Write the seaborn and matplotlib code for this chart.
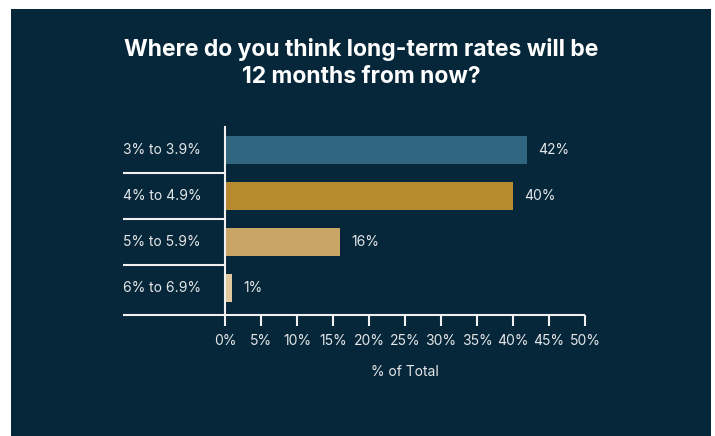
import matplotlib
matplotlib.use("Agg")
import matplotlib.pyplot as plt
from matplotlib.patches import Rectangle
from matplotlib.lines import Line2D
import seaborn as sns
import pandas as pd

# Survey answers: expected long-term rate range in 12 months
categories = ["3% to 3.9%", "4% to 4.9%", "5% to 5.9%", "6% to 6.9%"]
values = [42, 40, 16, 1]
x_ticks = [0, 5, 10, 15, 20, 25, 30, 35, 40, 45, 50]
x_tick_labels = ["0%", "5%", "10%", "15%", "20%", "25%", "30%", "35%", "40%", "45%", "50%"]
title = "Where do you think long-term rates will be\n12 months from now?"
x_label = "% of Total"

bar_colors = ["#316680", "#b78a30", "#c9a665", "#e2c99d"]
BG = "#062739"
TXT = "#e4e6e8"
LINE = "#f0f0f0"

sns.set_theme(style="white")
plt.rcParams["font.family"] = ["Inter", "DejaVu Sans"]

W, H = 715, 436
fig = plt.figure(figsize=(W / 100, H / 100), dpi=100, facecolor="white")
fig.add_artist(Rectangle((11 / W, 0), 700 / W, (H - 9) / H, transform=fig.transFigure,
                         facecolor=BG, edgecolor="none", zorder=0))

# plot area: 0% at x=225 px, 50% at x=585 px
ax = fig.add_axes([225 / W, (H - 315) / H, 360 / W, 188 / H])
ax.set_facecolor("none")

df = pd.DataFrame({"range": categories, "share": values})
sns.barplot(data=df, y="range", x="share", hue="range", palette=bar_colors,
            legend=False, orient="h", width=0.63, saturation=1, linewidth=0,
            ax=ax)

ax.set_xlim(0, 50)
ax.set_ylim(3.587, -0.5)

for s in ["top", "right", "bottom"]:
    ax.spines[s].set_visible(False)
ax.spines["left"].set_color(LINE)
ax.spines["left"].set_linewidth(1.5)

left_edge = -(225 - 123) / 360
ytrans = ax.get_yaxis_transform()
# baseline extending under the category labels
ax.add_line(Line2D([left_edge, 1], [0, 0], transform=ax.transAxes, color=LINE,
                   lw=1.5, clip_on=False, solid_capstyle="butt"))
# separators between categories
for yy in [0.5, 1.5, 2.5]:
    ax.add_line(Line2D([left_edge, 0], [yy, yy], transform=ytrans, color=LINE,
                       lw=1.5, clip_on=False, solid_capstyle="butt"))

for i, cat in enumerate(categories):
    ax.text(left_edge, i, cat, transform=ytrans, ha="left", va="center",
            color=TXT, fontsize=10)

for i, v in enumerate(values):
    ax.annotate(f"{v}%", xy=(v, i), xytext=(8, 0), textcoords="offset points",
                ha="left", va="center", color=TXT, fontsize=10)

ax.set_xticks(x_ticks)
ax.set_xticklabels(x_tick_labels)
ax.tick_params(axis="x", bottom=True, direction="out", length=8, width=1.5,
               color=LINE, labelcolor=TXT, labelsize=10, pad=6)
ax.tick_params(axis="y", left=False, labelleft=False)
ax.set_ylabel("")
ax.set_xlabel(x_label, color=TXT, fontsize=10, labelpad=12)

fig.text(361 / W, 1 - 63 / H, title, ha="center", va="center", fontsize=16.5,
         fontweight="bold", color="white", linespacing=1.35)

fig.savefig("out.png", dpi=100, facecolor=fig.get_facecolor())
